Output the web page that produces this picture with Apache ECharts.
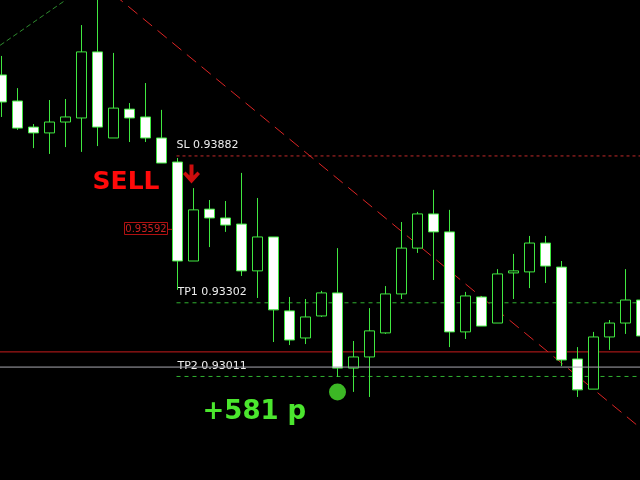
<!DOCTYPE html>
<html><head><meta charset="utf-8">
<script src="https://cdn.jsdelivr.net/npm/echarts@6/dist/echarts.min.js"></script>
<style>html,body{margin:0;padding:0;background:#000}#c{width:640px;height:480px}</style>
</head><body><div id="c"></div>
<script>
// ---- data ----
const categories = ['0','1','2','3','4','5','6','7','8','9','10','11','12','13','14','15','16','17','18','19','20','21','22','23','24','25','26','27','28','29','30','31','32','33','34','35','36','37','38','39','40'];
const opens  = [0.94202,0.94099,0.93996,0.93973,0.94016,0.94032,0.94293,0.93953,0.94067,0.94036,0.93953,0.93858,0.93467,0.93672,0.93637,0.93613,0.93428,0.93562,0.93270,0.93163,0.93250,0.93341,0.93044,0.93088,0.93183,0.93337,0.93518,0.93653,0.93582,0.93187,0.93325,0.93222,0.93420,0.93424,0.93538,0.93443,0.93080,0.92961,0.93167,0.93222,0.93313];
const closes = [0.94095,0.93992,0.93973,0.94016,0.94036,0.94293,0.93996,0.94071,0.94032,0.93953,0.93854,0.93467,0.93669,0.93637,0.93609,0.93428,0.93562,0.93274,0.93155,0.93246,0.93341,0.93044,0.93088,0.93191,0.93337,0.93518,0.93653,0.93582,0.93187,0.93329,0.93210,0.93416,0.93428,0.93538,0.93447,0.93076,0.92958,0.93167,0.93222,0.93313,0.93171];
const lows   = [0.94036,0.93985,0.93913,0.93890,0.93917,0.93898,0.93921,0.93953,0.93937,0.93937,0.93854,0.93353,0.93467,0.93522,0.93582,0.93408,0.93321,0.93147,0.93135,0.93139,0.93246,0.93009,0.92950,0.92930,0.93179,0.93317,0.93499,0.93392,0.93127,0.93159,0.93210,0.93222,0.93317,0.93360,0.93380,0.93052,0.92930,0.92961,0.93116,0.93179,0.93171];
const highs  = [0.94277,0.94150,0.94008,0.94103,0.94107,0.94399,0.94518,0.94289,0.94091,0.94170,0.94064,0.93874,0.93755,0.93708,0.93704,0.93815,0.93716,0.93562,0.93325,0.93317,0.93349,0.93518,0.93151,0.93281,0.93368,0.93621,0.93661,0.93748,0.93669,0.93345,0.93329,0.93435,0.93495,0.93566,0.93566,0.93467,0.93127,0.93187,0.93234,0.93435,0.93333];

const SL = 0.93882, TP1 = 0.93302, TP2 = 0.93011, ENTRY = 0.93592;
const bidLevel = 0.93108, askLevel = 0.93048;
const levelStart = 10.9375, entryStart = 10.375;
const redTrend = [[7, 0.94521], [40.5, 0.92778]];
const greenTrend = [[-0.5, 0.94301], [5, 0.94541]];
const signalDot = [21, 0.92950];
const sellArrow = [11.875, 0.93811];
const sellText = 'SELL';
const profitText = '+581 p';
const Y_MIN = 0.92602, Y_MAX = 0.94498;

const GREEN = '#40e840';
const candleData = categories.map((c, i) => [opens[i], closes[i], lows[i], highs[i]]);

const chart = echarts.init(document.getElementById('c'), null, {renderer: 'canvas'});

function lineSeries(data, color, type, z) {
  return {
    type: 'line', xAxisIndex: 1, yAxisIndex: 0, data: data, symbol: 'none', silent: true,
    lineStyle: {color: color, width: 1, type: type}, z: z, animation: false
  };
}

const option = {
  backgroundColor: '#000000',
  animation: false,
  grid: {left: -6.5, top: 0, width: 656, height: 480, containLabel: false, outerBoundsMode: 'none'},
  xAxis: [
    {type: 'category', data: categories, boundaryGap: true, show: false},
    {type: 'value', min: -0.5, max: 40.5, show: false}
  ],
  yAxis: [{type: 'value', min: Y_MIN, max: Y_MAX, show: false, scale: true}],
  series: [
    lineSeries(greenTrend, '#2e8b2e', [5, 3], 1),
    lineSeries(redTrend, '#dc2424', [12, 7], 1),
    lineSeries([[levelStart, SL], [40.5, SL]], '#c02a2a', [3, 3], 1),
    lineSeries([[levelStart, TP1], [40.5, TP1]], '#30b030', [4, 4], 1),
    lineSeries([[levelStart, TP2], [40.5, TP2]], '#30b030', [4, 4], 1),
    lineSeries([[-0.5, bidLevel], [40.5, bidLevel]], '#c81c1c', 'solid', 1),
    lineSeries([[-0.5, askLevel], [40.5, askLevel]], '#a8a8b0', 'solid', 4),
    lineSeries([[entryStart, ENTRY], [11, ENTRY]], '#c01818', 'solid', 1),
    {
      type: 'candlestick', xAxisIndex: 0, yAxisIndex: 0, data: candleData, barWidth: 10, z: 3,
      itemStyle: {color: '#000000', color0: '#ffffff', borderColor: GREEN, borderColor0: GREEN, borderWidth: 1}
    },
    {
      type: 'scatter', xAxisIndex: 1, yAxisIndex: 0, data: [signalDot], symbol: 'circle', symbolSize: 17,
      itemStyle: {color: '#4be62e'}, z: 5, silent: true
    },
    {
      type: 'scatter', xAxisIndex: 1, yAxisIndex: 0, data: [sellArrow],
      symbol: 'path://M6.5,0 L10.5,0 L10.5,11 L14.5,7 L17,9.5 L8.5,19 L0,9.5 L2.5,7 L6.5,11 Z',
      symbolSize: [17, 19], itemStyle: {color: '#ff1010'}, z: 5, silent: true
    }
  ]
};
chart.setOption(option);

function px(x, y) { return chart.convertToPixel({xAxisIndex: 1, yAxisIndex: 0}, [x, y]); }

const pSL = px(levelStart, SL), pTP1 = px(levelStart, TP1), pTP2 = px(levelStart, TP2);
const pEntry = px(entryStart, ENTRY);
const pDot = px(signalDot[0], signalDot[1]);
const pArrow = px(sellArrow[0], sellArrow[1]);
const lblFont = '11px "DejaVu Sans"';
chart.setOption({
  graphic: [
    {type: 'text', z: 3, style: {x: pSL[0], y: pSL[1] - 5, text: 'SL ' + SL.toFixed(5), fill: '#eeeeee', font: lblFont, verticalAlign: 'bottom', align: 'left'}},
    {type: 'text', z: 3, style: {x: pTP1[0] + 1, y: pTP1[1] - 5, text: 'TP1 ' + TP1.toFixed(5), fill: '#eeeeee', font: lblFont, verticalAlign: 'bottom', align: 'left'}},
    {type: 'text', z: 3, style: {x: pTP2[0] + 1, y: pTP2[1] - 5, text: 'TP2 ' + TP2.toFixed(5), fill: '#eeeeee', font: lblFont, verticalAlign: 'bottom', align: 'left'}},
    {type: 'rect', z: 3, shape: {x: Math.round(pEntry[0]) - 43.5, y: Math.round(pEntry[1]) - 6.5, width: 43, height: 12}, style: {fill: 'none', stroke: '#b01010', lineWidth: 1}},
    {type: 'text', z: 3, style: {x: pEntry[0] - 21.5, y: pEntry[1], text: ENTRY.toFixed(5), fill: '#c82020', font: '10px "DejaVu Sans"', verticalAlign: 'middle', align: 'center'}},
    {type: 'text', z: 6, style: {x: pArrow[0] - 32, y: pArrow[1] + 9, text: sellText, fill: '#ff0a0a', font: 'bold 25px "DejaVu Sans"', verticalAlign: 'middle', align: 'right'}},
    {type: 'text', z: 6, style: {x: pDot[0] - 135, y: pDot[1] + 20, text: profitText, fill: '#4be62e', font: 'bold 26px "DejaVu Sans"', verticalAlign: 'middle', align: 'left'}}
  ]
});
</script>
</body></html>
